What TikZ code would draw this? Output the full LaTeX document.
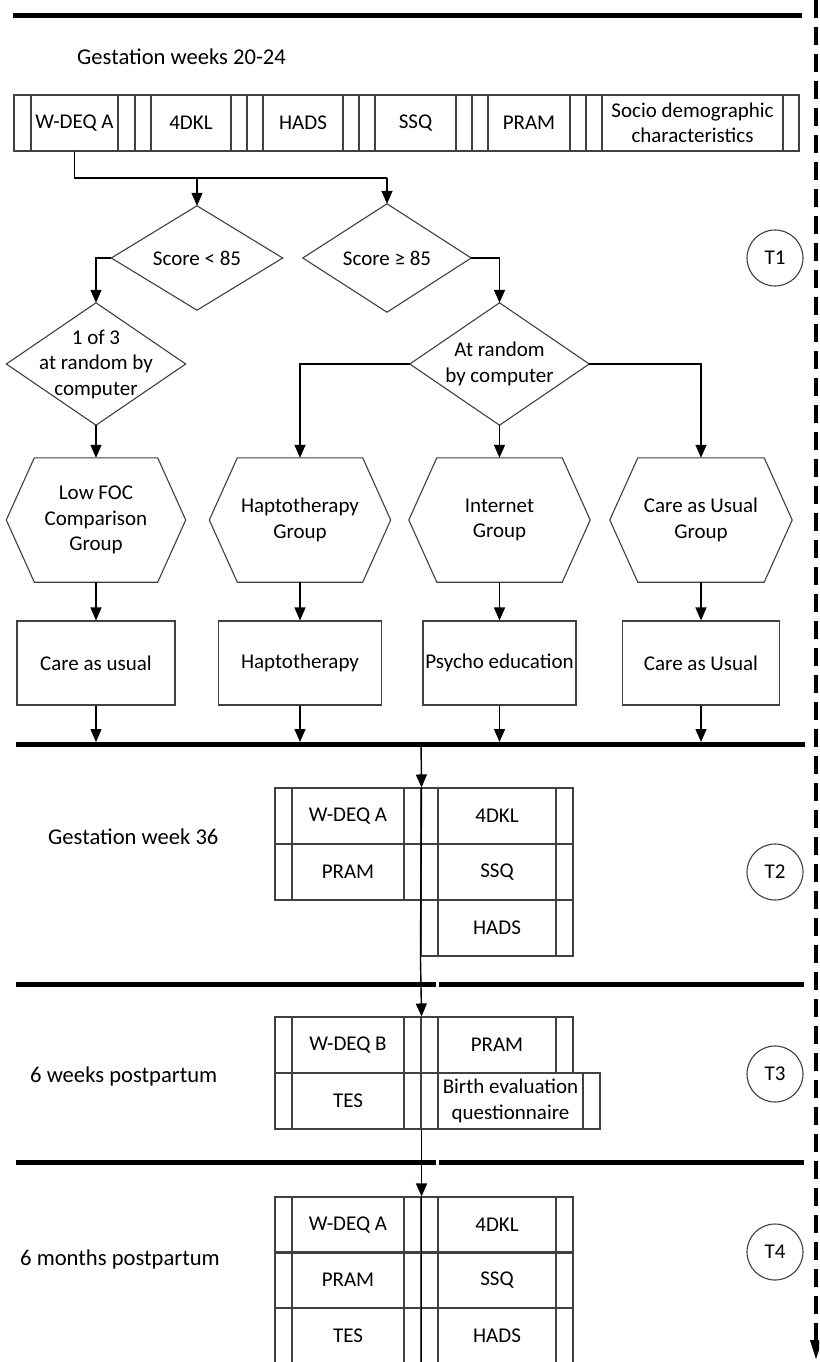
\documentclass[tikz,border=0pt]{standalone}
\usepackage{fontspec}
\setmainfont{Carlito}
\usetikzlibrary{arrows.meta,calc}
\newcommand\boxfont{\fontsize{21}{25.5}\selectfont}
\newcommand\labfont{\fontsize{22.6}{27}\selectfont}
\tikzset{
  shp/.style={draw=black!75, line width=1.1pt},
  conn/.style={draw=black, line width=1.4pt},
  arr/.style={conn, -{Triangle[length=13pt,width=11pt]}},
  bar/.style={draw=black, line width=5pt},
  cell/.style={shp, rectangle, inner sep=0pt, minimum height=56pt, align=center, font=\boxfont, text=black,
    path picture={\draw[black!75, line width=1.1pt]
      ([xshift=#1]path picture bounding box.north west) -- ([xshift=#1]path picture bounding box.south west)
      ([xshift=-#1]path picture bounding box.north east) -- ([xshift=-#1]path picture bounding box.south east);}},
  cell/.default=16pt,
  plain/.style={shp, rectangle, inner sep=0pt, align=center, font=\boxfont, text=black},
  hol/.style={rectangle, inner sep=0pt, draw=none},
  txt/.style={align=center, font=\boxfont, text=black, inner sep=0pt},
  lab/.style={font=\labfont, text=black, inner sep=0pt, anchor=base west},
  circ/.style={shp, circle, minimum size=56pt, inner sep=0pt, font=\boxfont, text=black},
}
\begin{document}
\begin{tikzpicture}[x=1pt,y=-1pt]
\clip (0,0) rectangle (819,1362);
\fill[white] (0,0) rectangle (819,1362);

% time axis
\coordinate (dtop) at (816,0);
\coordinate (dbot) at (816,1360);
\draw[line width=3.5pt, dash pattern=on 18pt off 9pt, -{Triangle[length=20pt,width=11pt]}] (dtop) -- (dbot);

% top line
\coordinate (b0l) at (13,16);
\coordinate (b0r) at (802,16);
\draw[bar] (b0l) -- (b0r);

\node[lab] (l1) at (77,65) {Gestation weeks 20-24};

% top row of questionnaires
\node[cell=17pt, minimum width=121pt] (w1) at (74.5,123) {W-DEQ A};
\node[cell, minimum width=112pt] (w2) at (191,123) {4DKL};
\node[cell, minimum width=112pt] (w3) at (303,123) {HADS};
\node[cell, minimum width=113pt] (w4) at (415.5,123) {SSQ};
\node[cell, minimum width=114pt] (w5) at (529,123) {PRAM};
\node[cell, minimum width=213pt] (w6) at (692.5,123) {Socio demographic\\characteristics};

% diamonds
\node[hol, minimum width=171pt, minimum height=104pt] (d1) at (197,258) {};
\node[hol, minimum width=168pt, minimum height=108pt] (d2) at (387,258) {};
\node[hol, minimum width=179pt, minimum height=122pt] (d3) at (96,364) {};
\node[hol, minimum width=179pt, minimum height=122pt] (d4) at (499.5,364) {};
\foreach \d in {d1,d2,d3,d4}
  \draw[shp] (\d.north) -- (\d.east) -- (\d.south) -- (\d.west) -- cycle;
\node[txt] (d1t) at (d1.center) {Score < 85};
\node[txt] (d2t) at (d2.center) {Score ≥ 85};
\node[txt] (d3t) at (d3.center) {1 of 3\\at random by\\computer};
\node[txt] (d4t) at (d4.center) {At random\\by computer};

\node[circ] (T1) at (775,258) {T1};

% hexagons
\node[hol, minimum width=179pt, minimum height=124pt] (h1) at (96,520) {};
\node[hol, minimum width=181pt, minimum height=124pt] (h2) at (300,520) {};
\node[hol, minimum width=181pt, minimum height=124pt] (h3) at (499.5,520) {};
\node[hol, minimum width=182pt, minimum height=124pt] (h4) at (701,520) {};
\foreach \h in {h1,h2,h3,h4}
  \draw[shp] ([xshift=28pt]\h.north west) -- ([xshift=-28pt]\h.north east) -- (\h.east)
    -- ([xshift=-28pt]\h.south east) -- ([xshift=28pt]\h.south west) -- (\h.west) -- cycle;
\node[txt] (h1t) at (h1.center) {Low FOC\\Comparison\\Group};
\node[txt] (h2t) at (h2.center) {Haptotherapy\\Group};
\node[txt] (h3t) at (h3.center) {Internet\\Group};
\node[txt] (h4t) at (h4.center) {Care as Usual\\Group};

% intervention boxes
\node[plain, minimum width=158pt, minimum height=84pt] (r1) at (96,663) {Care as usual};
\node[plain, minimum width=163pt, minimum height=84pt] (r2) at (300,663) {Haptotherapy};
\node[plain, minimum width=153pt, minimum height=84pt] (r3) at (499.5,663) {Psycho education};
\node[plain, minimum width=157pt, minimum height=84pt] (r4) at (701,663) {Care as Usual};

% connectors top part
\coordinate (jt) at (0,178);
\draw[conn] (w1.south) |- (d2.north |- jt);
\draw[arr] (d1.north |- jt) -- (d1.north);
\draw[arr] (d2.north |- jt) -- (d2.north);
\draw[arr] (d1.west) -| (d3.north);
\draw[arr] (d2.east) -| (d4.north);
\draw[arr] (d3.south) -- (h1.north);
\draw[arr] (d4.west) -| (h2.north);
\draw[arr] (d4.south) -- (h3.north);
\draw[arr] (d4.east) -| (h4.north);
\foreach \i in {1,2,3,4}
  \draw[arr] (h\i.south) -- (h\i.south |- r\i.north);

% bar 1
\coordinate (b1l) at (16,744);
\coordinate (b1r) at (805,744);
\coordinate (b1m) at (421,744);
\draw[bar] (b1l) -- (b1r);
\foreach \i in {1,2,3,4}
  \draw[arr] (r\i.south) -- ([yshift=2pt]r\i.south |- b1l);

% T2
\node[lab] (l2) at (48,844) {Gestation week 36};
\node[cell=17pt, minimum width=146pt] (t2a) at (348,816) {W-DEQ A};
\node[cell=17pt, minimum width=146pt] (t2b) at (348,872) {PRAM};
\node[cell=17pt, minimum width=152pt] (t2c) at (497,816) {4DKL};
\node[cell=17pt, minimum width=152pt] (t2d) at (497,872) {SSQ};
\node[cell=17pt, minimum width=152pt] (t2e) at (497,928) {HADS};
\node[circ] (T2) at (775,872) {T2};

% bar 2
\coordinate (b2l) at (16,984);
\coordinate (b2g) at (436,984);
\coordinate (b2h) at (439,984);
\coordinate (b2r) at (804,984);
\draw[bar] (b2l) -- (b2g);
\draw[bar] (b2h) -- (b2r);

% T3
\node[lab] (l3) at (30,1082) {6 weeks postpartum};
\node[cell=17pt, minimum width=146pt] (t3a) at (348,1045) {W-DEQ B};
\node[cell=17pt, minimum width=146pt] (t3b) at (348,1101) {TES};
\node[cell=17pt, minimum width=152pt] (t3c) at (497,1045) {PRAM};
\node[cell=17pt, minimum width=179pt] (t3d) at (510.5,1101) {Birth evaluation\\questionnaire};
\node[circ] (T3) at (775,1074) {T3};

% bar 3
\coordinate (b3l) at (16,1162);
\coordinate (b3g) at (436,1162);
\coordinate (b3h) at (439,1162);
\coordinate (b3r) at (804,1162);
\draw[bar] (b3l) -- (b3g);
\draw[bar] (b3h) -- (b3r);

% T4
\node[lab] (l4) at (20,1265) {6 months postpartum};
\node[cell=17pt, minimum width=146pt] (t4a) at (348,1225) {W-DEQ A};
\node[cell=17pt, minimum width=146pt] (t4b) at (348,1280) {PRAM};
\node[cell=17pt, minimum width=146pt] (t4c) at (348,1336) {TES};
\node[cell=17pt, minimum width=152pt] (t4d) at (497,1225) {4DKL};
\node[cell=17pt, minimum width=152pt] (t4e) at (497,1280) {SSQ};
\node[cell=17pt, minimum width=152pt] (t4f) at (497,1336) {HADS};
\node[circ] (T4) at (775,1252) {T4};

% main vertical flow
\draw[arr] (b1m) -- (t2a.north east);
\draw[conn] (t2a.north east) -- (t2e.south west);
\draw[arr] (t2e.south west) -- (t3a.north east);
\draw[arr] (t3b.south east) -- (t4a.north east);
\draw[conn] (t4a.north east) -- (t4c.south east);
\end{tikzpicture}
\end{document}
